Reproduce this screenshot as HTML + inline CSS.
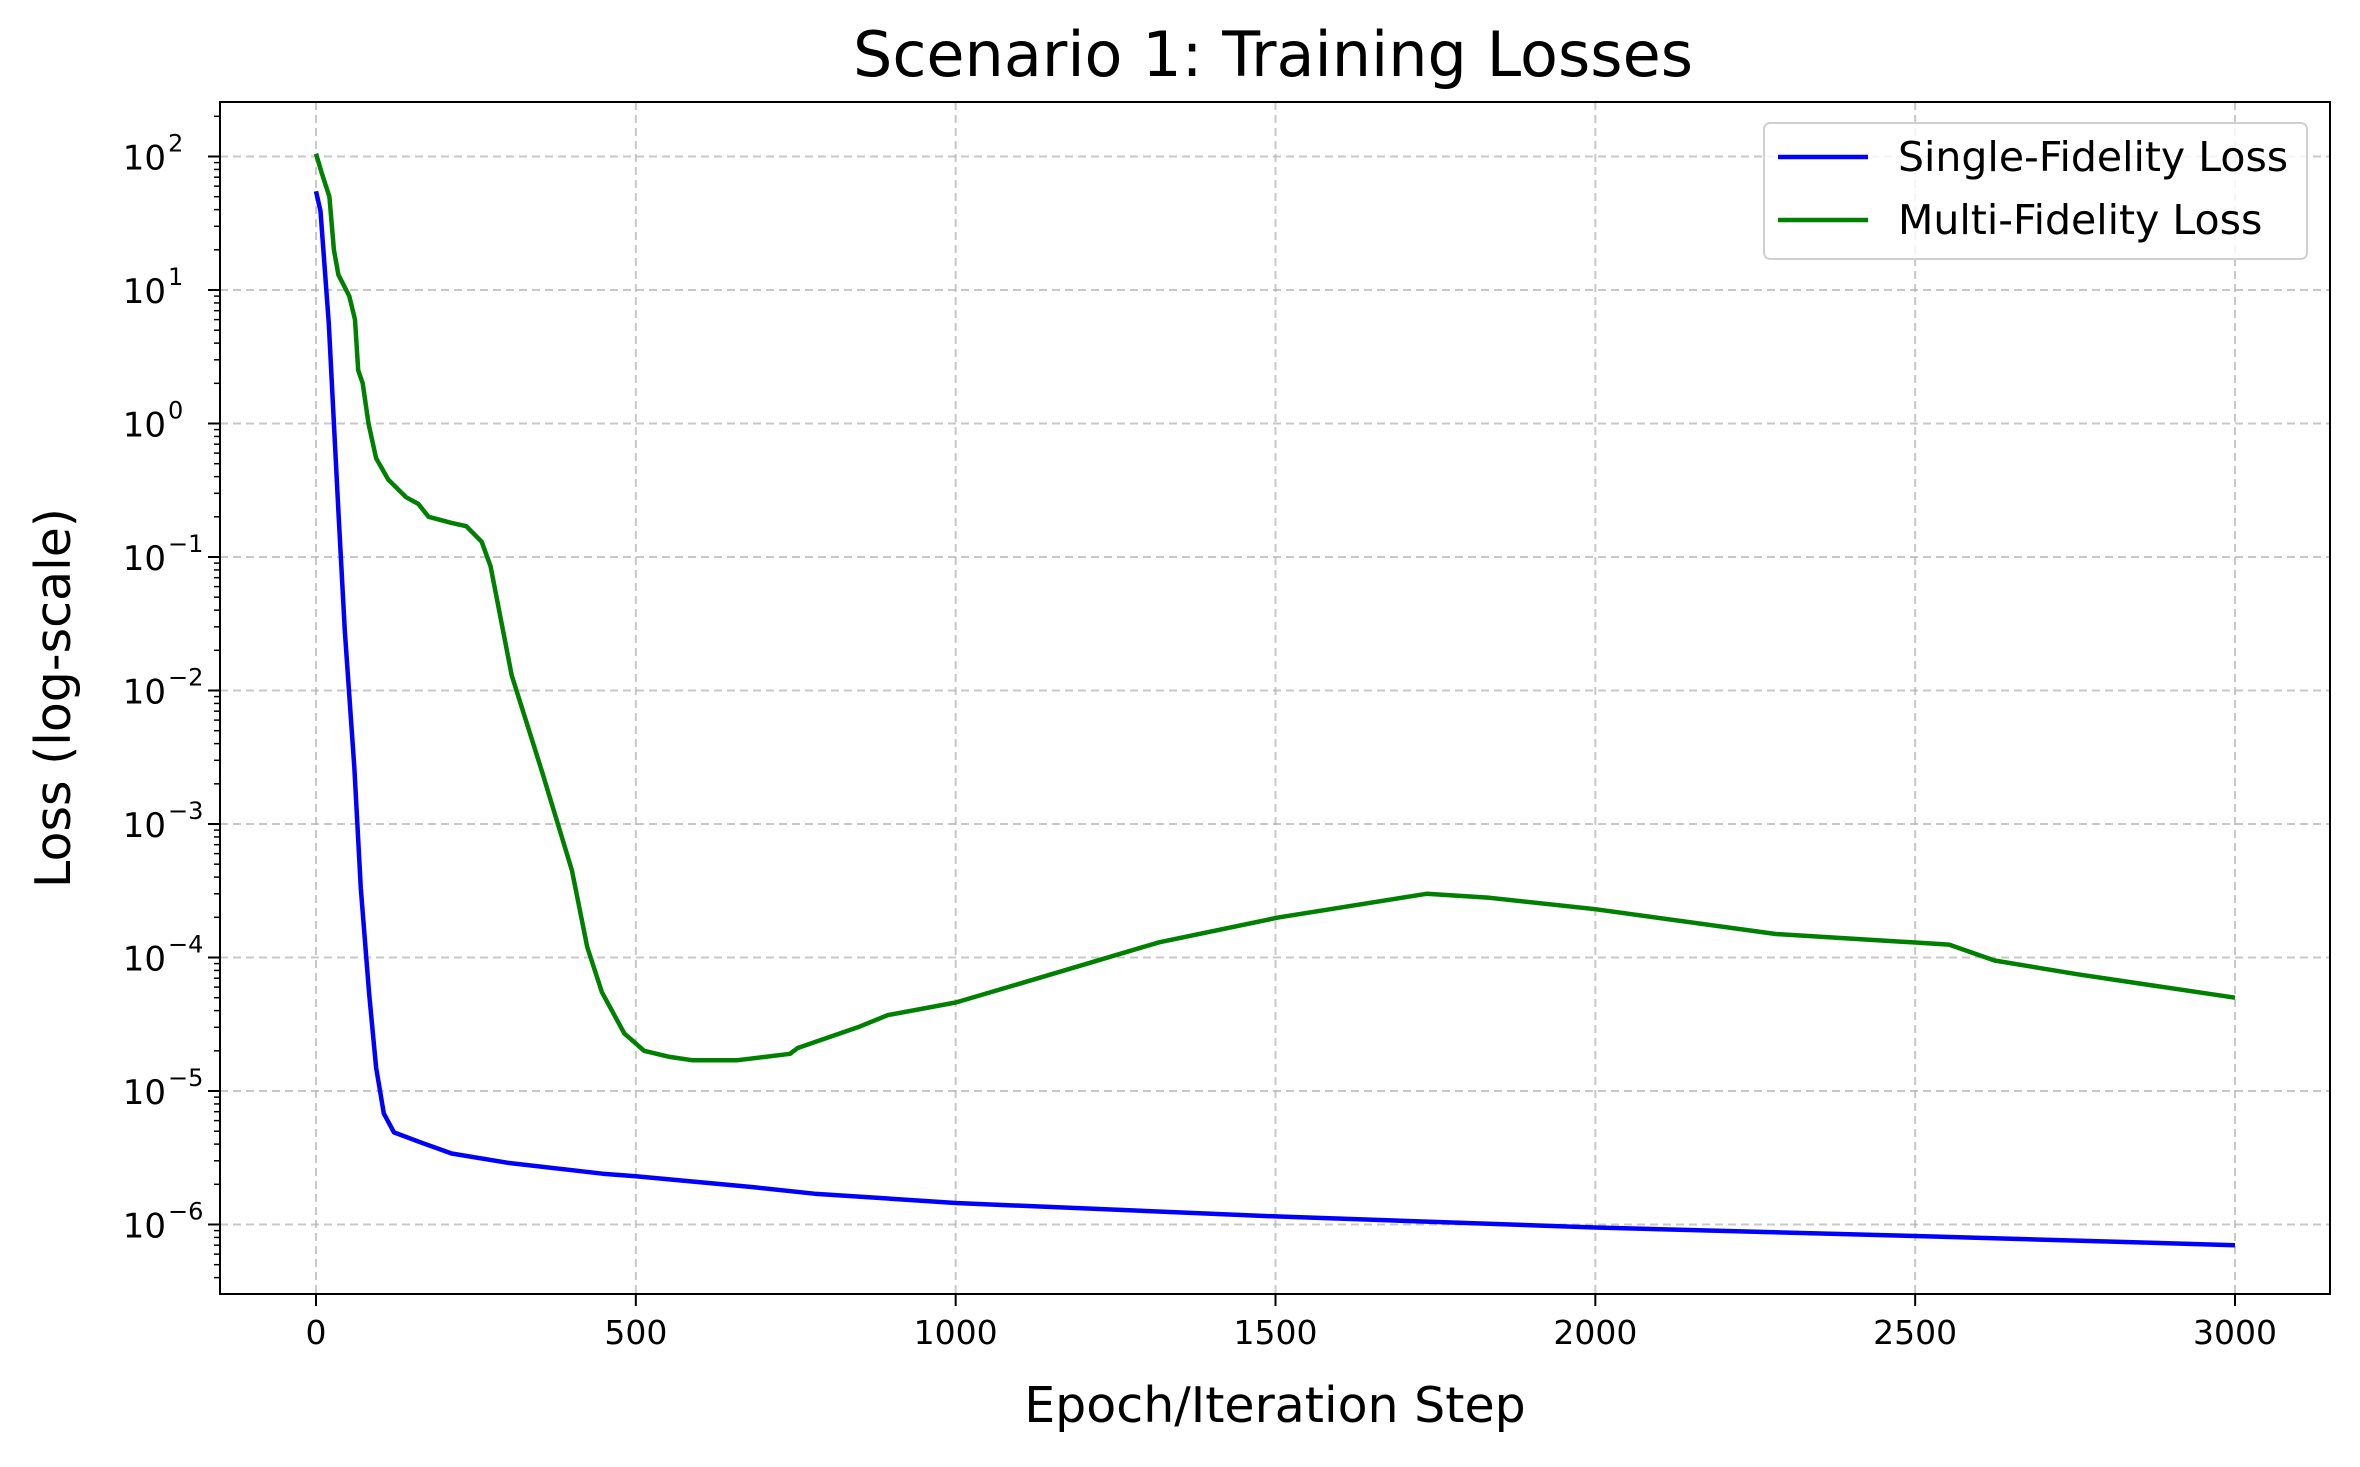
<!DOCTYPE html>
<html><head><meta charset="utf-8"><style>
body{margin:0;background:#fff}
svg text{font-family:"DejaVu Sans","Liberation Sans",sans-serif;fill:#000}
</style></head><body>
<svg id="chart" width="2360" height="1462" viewBox="0 0 2360 1462" xmlns="http://www.w3.org/2000/svg">
<rect width="2360" height="1462" fill="#fff"/>
<text x="1273" y="76" font-size="62" text-anchor="middle">Scenario 1: Training Losses</text>
<g id="grid"></g>
<g id="series"></g>
<rect x="220" y="102" width="2110" height="1192" fill="none" stroke="#000" stroke-width="2"/>
<g id="axes"></g>
<text x="1275" y="1422" font-size="49" text-anchor="middle">Epoch/Iteration Step</text>
<text transform="translate(70,698) rotate(-90)" font-size="49" text-anchor="middle">Loss (log-scale)</text>
<g>
<rect x="1764" y="123" width="543" height="136" rx="6" fill="#fff" fill-opacity="0.8" stroke="#d0d0d0" stroke-width="2"/>
<line x1="1778" y1="157" x2="1868" y2="157" stroke="#0000ff" stroke-width="4.5"/>
<text x="1898" y="171" font-size="41">Single-Fidelity Loss</text>
<line x1="1778" y1="220" x2="1868" y2="220" stroke="#008000" stroke-width="4.5"/>
<text x="1898" y="234" font-size="41">Multi-Fidelity Loss</text>
</g>
</svg>
<script>
const xTicks=[0,500,1000,1500,2000,2500,3000];
const yDecades=[-6,-5,-4,-3,-2,-1,0,1,2];
const singleX=[0,7,20,35,45,60,70,83,94,106,122,165,212,300,448,500,685,779,1000,1500,2000,2500,3000];
const singleY=[55,39,5.6,0.22,0.028,0.0026,3.3e-4,5.4e-5,1.5e-5,6.8e-6,4.9e-6,4.1e-6,3.4e-6,2.9e-6,2.4e-6,2.3e-6,1.9e-6,1.7e-6,1.45e-6,1.15e-6,9.5e-7,8.2e-7,7e-7];
const multiX=[0,9,21,28,35,52,61,66,73,82,94,113,141,160,176,212,235,259,273,306,353,400,424,447,482,513,553,588,659,741,753,847,894,1000,1129,1318,1506,1736,1835,2000,2282,2494,2553,2624,2753,3000];
const multiY=[105,75,50,20,13,9,6,2.5,2,1,0.55,0.38,0.28,0.25,0.2,0.18,0.17,0.13,0.085,0.013,0.0025,4.5e-4,1.2e-4,5.5e-5,2.7e-5,2e-5,1.8e-5,1.7e-5,1.7e-5,1.9e-5,2.1e-5,3e-5,3.7e-5,4.6e-5,7e-5,1.3e-4,2e-4,3e-4,2.8e-4,2.3e-4,1.5e-4,1.3e-4,1.25e-4,9.5e-5,7.5e-5,5e-5];
const NS="http://www.w3.org/2000/svg";
const L=220,T=102,R=2330,B=1294;
function sx(v){return 316+v*(2235-316)/3000;}
function sy(v){return 156.5-(Math.log10(v)-2)*133.5;}
function mk(tag,attrs,parent){const e=document.createElementNS(NS,tag);for(const k in attrs)e.setAttribute(k,attrs[k]);parent.appendChild(e);return e;}
const grid=document.getElementById('grid'),axes=document.getElementById('axes'),series=document.getElementById('series');
xTicks.forEach(t=>{
 const x=sx(t);
 const g=mk('line',{x1:x,y1:T,x2:x,y2:B,stroke:'#b0b0b0','stroke-opacity':0.7,'stroke-width':2,'stroke-dasharray':'8,5'},grid);
 
 
 const tk=mk('line',{x1:x,y1:B,x2:x,y2:B+12,stroke:'#000','stroke-width':2},axes);
 
 
 const tx=mk('text',{x:x,y:B+50,'font-size':33,'text-anchor':'middle'},axes);
 tx.textContent=t;
 
 
});
for(let d=-7;d<=2;d++){
 for(let m=1;m<10;m++){
  const v=m*Math.pow(10,d);const y=sy(v);
  if(y<T||y>B)continue;
  if(m===1){
   const g=mk('line',{x1:L,y1:y,x2:R,y2:y,stroke:'#b0b0b0','stroke-opacity':0.7,'stroke-width':2,'stroke-dasharray':'8,5'},grid);
   
   
  }
  const tk=mk('line',{x1:L-(m===1?12:6),y1:y,x2:L,y2:y,stroke:'#000','stroke-width':m===1?2:1.5},axes);
  
  
 }
}
yDecades.forEach(d=>{
 const y=sy(Math.pow(10,d));
 const tx=mk('text',{x:166,y:y+13,'font-size':34,'text-anchor':'end'},axes);
 tx.textContent='10';
 
 
 const ex=mk('text',{x:168,y:y-5,'font-size':24,'text-anchor':'start'},axes);
 ex.textContent=d<0?'\u2212'+(-d):String(d);
 
 
});
function line(xs,ys,color,name){
 const pts=xs.map((x,i)=>sx(x).toFixed(1)+','+sy(ys[i]).toFixed(1)).join(' ');
 const p=mk('polyline',{points:pts,fill:'none',stroke:color,'stroke-width':4.5,'stroke-linejoin':'round'},series);
 
 
}
line(singleX,singleY,'#0000ff','single-fidelity-line');
line(multiX,multiY,'#008000','multi-fidelity-line');
</script>
</body></html>
